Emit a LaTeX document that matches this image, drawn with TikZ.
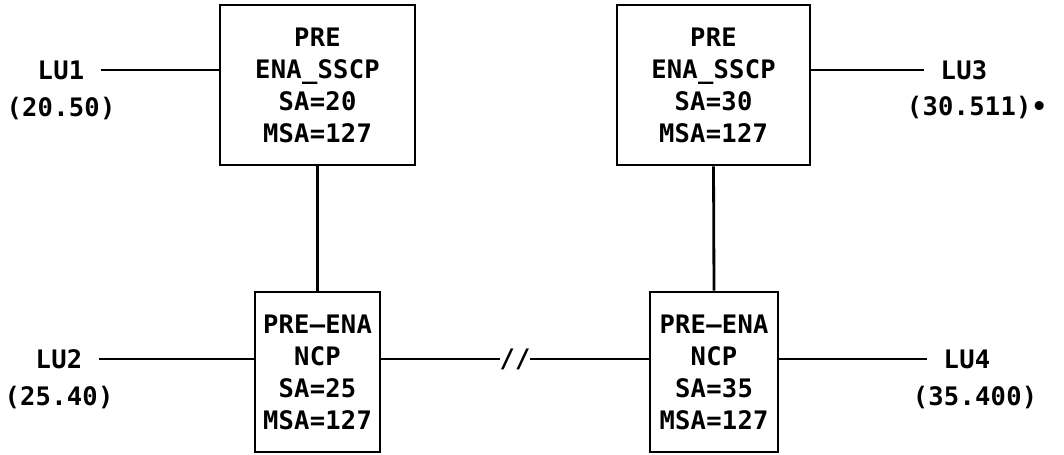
\documentclass[tikz,border=0pt]{standalone}
\usepackage{fontspec}
\newfontfamily\ibmfont[LetterSpace=1]{DejaVu Sans Mono}
\usetikzlibrary{positioning}

\begin{document}
\begin{tikzpicture}[line width=1.6pt,
    ibm/.style={font=\ibmfont\bfseries\fontsize{14.5}{18.2}\selectfont},
    nodebox/.style={draw, rectangle, ibm, align=center, minimum height=3.2cm, inner sep=0pt},
    lulabel/.style={ibm, inner ysep=0pt, inner xsep=0.3cm}]
    \useasboundingbox (0,0) rectangle (21.28,9.08);
    % Hosts and NCPs
    \node[nodebox, minimum width=3.9cm] (sscp20) at (6.35,7.38) {PRE\\ENA\_SSCP\\SA=20\\MSA=127};
    \node[nodebox, minimum width=3.86cm] (sscp30) at (14.27,7.38) {PRE\\ENA\_SSCP\\SA=30\\MSA=127};
    \node[nodebox, minimum width=2.5cm] (ncp25) at (6.35,1.64) {PRE–ENA\\NCP\\SA=25\\MSA=127};
    \node[nodebox, minimum width=2.56cm] (ncp35) at (14.28,1.64) {PRE–ENA\\NCP\\SA=35\\MSA=127};

    % LUs
    \node[lulabel] (lu1) at (1.22,7.68) {LU1};
    \node[lulabel] (lu3) at (19.28,7.68) {LU3};
    \node[lulabel] (lu2) at (1.18,1.9) {LU2};
    \node[lulabel] (lu4) at (19.34,1.9) {LU4};
    \node[ibm, below=0.18cm of lu1] (lu1addr) {(20.50)};
    \node[ibm, below=0.15cm of lu3, xshift=0.26cm] (lu3addr) {(30.511)•};
    \node[ibm, below=0.18cm of lu2] (lu2addr) {(25.40)};
    \node[ibm, below=0.18cm of lu4, xshift=0.16cm] (lu4addr) {(35.400)};

    % Links
    \draw (lu1) -- (lu1 -| sscp20.west);
    \draw (sscp30.east |- lu3) -- (lu3);
    \draw (lu2) -- (lu2 -| ncp25.west);
    \draw (ncp35.east |- lu4) -- (lu4);
    \draw (sscp20.south) -- (ncp25.north);
    \draw (sscp30.south) -- (ncp35.north);
    \draw (ncp25.east |- lu2) -- node[ibm, fill=white, inner sep=0pt] (brk) {//} (ncp35.west |- lu2);
\end{tikzpicture}
\end{document}
